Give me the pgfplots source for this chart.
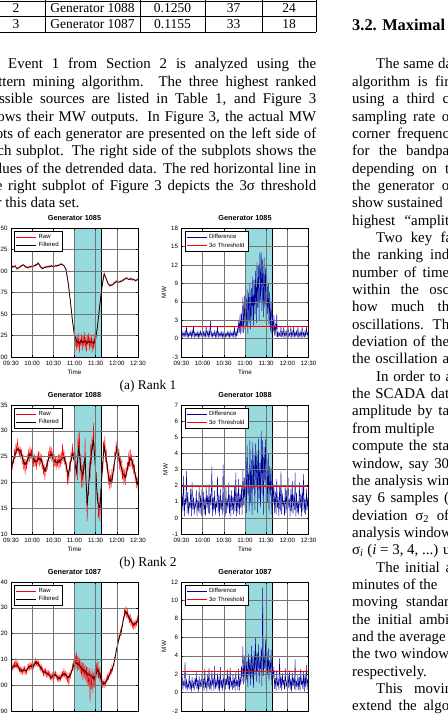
\documentclass[border=0pt]{standalone}
\usepackage{fontspec}
\setmainfont{Liberation Serif}
\newfontfamily\plotfont{Liberation Sans}
\usepackage{pgfplots}
\pgfplotsset{compat=1.18}
\definecolor{shade}{RGB}{150,218,222}
\definecolor{diffblue}{RGB}{0,0,150}
\newcommand\bodyfont{\fontsize{14.9}{17}\selectfont}
\newcommand\LJ[2]{\node[anchor=base west,inner sep=0pt,font=\bodyfont] at (-16,{645-17.35*#1}) {\makebox[332pt][s]{#2}};}
\newcommand\RJ[2]{\node[anchor=base west,inner sep=0pt,font=\bodyfont] at (352,{645-17.35*#1}) {\makebox[97pt][s]{#2}};}
\newcommand\RIJ[2]{\node[anchor=base west,inner sep=0pt,font=\bodyfont] at (376,{645-17.35*#1}) {\makebox[76pt][s]{#2}};}
\newcommand\RN[2]{\node[anchor=base west,inner sep=0pt,font=\bodyfont] at (352,{645-17.35*#1}) {#2};}
\pgfplotsset{
 gp/.style={
  scale only axis, width=127pt, height=129pt, anchor=south west,
  xmin=0, xmax=180, xtick={0,30,60,90,120,150,180},
  xticklabels={09:30,10:00,10:30,11:00,11:30,12:00,12:30},
  grid=major, major grid style={black!55, line width=0.35pt},
  axis line style={line width=0.6pt}, axis on top,
  tick align=inside, major tick length=1.8pt,
  every tick/.style={black, line width=0.4pt},
  ticklabel style={font=\plotfont\fontsize{6.2}{7}\selectfont},
  /pgf/number format/assume math mode=true,
  xticklabel style={yshift=-1pt},
  title style={font=\plotfont\bfseries\fontsize{7.3}{8}\selectfont, yshift=-2pt},
  xlabel={Time}, xlabel style={font=\plotfont\fontsize{6.3}{7}\selectfont, yshift=3pt},
  ylabel={MW}, ylabel style={font=\plotfont\fontsize{6.3}{7}\selectfont, yshift=-2pt},
  legend style={at={(0.025,0.975)}, anchor=north west, draw=black, line width=0.5pt, fill=white,
     font=\plotfont\fontsize{6}{7}\selectfont, inner xsep=1.5pt, inner ysep=1pt, row sep=-1.5pt},
  legend cell align=left,
  legend image code/.code={\draw[#1,line width=0.7pt] (0pt,0pt) -- (20pt,0pt);},
 },
 rawp/.style={red, line width=0.4pt},
 filtp/.style={black, line width=0.7pt},
 diffp/.style={diffblue, line width=0.4pt},
 thrp/.style={red, line width=0.8pt},
 shadep/.style={fill=shade, draw=black, line width=0.5pt, forget plot},
}
\begin{document}
\begin{tikzpicture}[x=1pt,y=1pt]
\begin{scope}
\clip (0,0) rectangle (447,714);
% ---------- table fragment ----------
\draw[line width=0.6pt] (-10,713) -- (316,713) (-10,697.5) -- (316,697.5) (-10,682) -- (316,682);
\foreach \xx in {45,140,205,262,316} {\draw[line width=0.6pt] (\xx,682) -- (\xx,720);}
\begin{scope}[every node/.style={anchor=base,inner sep=0pt,font=\fontsize{13.5}{16}\selectfont}]
\node at (16,701) {2}; \node at (92.5,701) {Generator 1088}; \node at (172.5,701) {0.1250}; \node at (233.5,701) {37}; \node at (289,701) {24};
\node at (16,685.5) {3}; \node at (92.5,685.5) {Generator 1087}; \node at (172.5,685.5) {0.1155}; \node at (233.5,685.5) {33}; \node at (289,685.5) {18};
\end{scope}
% ---------- left column text ----------
\node[anchor=base west,inner sep=0pt,font=\bodyfont] at (8,645) {\makebox[308pt][s]{Event 1 from Section 2 is analyzed using the}};
\LJ{1}{pattern mining algorithm. The three highest ranked}
\LJ{2}{possible sources are listed in Table 1, and Figure 3}
\LJ{3}{shows their MW outputs. In Figure 3, the actual MW}
\LJ{4}{plots of each generator are presented on the left side of}
\LJ{5}{each subplot. The right side of the subplots shows the}
\LJ{6}{values of the detrended data. The red horizontal line in}
\LJ{7}{the right subplot of Figure 3 depicts the 3σ threshold}
\node[anchor=base west,inner sep=0pt,font=\bodyfont] at (-16,{645-17.35*8}) {for this data set.};
% ---------- right column text ----------
\node[anchor=base west,inner sep=0pt,font=\fontsize{16.4}{19}\selectfont\bfseries] at (352,683) {3.2. Maximal};
\RIJ{0}{The same da}
\RJ{1}{algorithm is fir}
\RJ{2}{using a third c}
\RJ{3}{sampling rate o}
\RJ{4}{corner frequenc}
\RJ{5}{for the bandpa}
\RJ{6}{depending on t}
\RJ{7}{the generator o}
\RN{8}{show sustained}
\RJ{9}{highest “amplit}
\RIJ{10}{Two key fa}
\RJ{11}{the ranking ind}
\RJ{12}{number of time}
\RJ{13}{within the osc}
\RJ{14}{how much th}
\RJ{15}{oscillations. Th}
\RJ{16}{deviation of the}
\RJ{17}{the oscillation a}
\RIJ{18}{In order to a}
\RJ{19}{the SCADA dat}
\RJ{20}{amplitude by ta}
\RN{21}{from multiple}
\RJ{22}{compute the sta}
\RJ{23}{window, say 30}
\RJ{24}{the analysis win}
\RJ{25}{say 6 samples (}
\RJ{26}{deviation σ\textsubscript{2} of}
\RN{27}{analysis window}
\RN{28}{σ\textsubscript{\textit{i}} (\textit{i} = 3, 4, ...) u}
\RIJ{29}{The initial a}
\RN{30}{minutes of the}
\RJ{31}{moving standar}
\RJ{32}{the initial ambi}
\RN{33}{and the average}
\RJ{34}{the two window}
\RN{35}{respectively.}
\RIJ{36}{This movin}
\RJ{37}{extend the algo}
% ---------- captions ----------
\node[anchor=base,inner sep=0pt,font=\fontsize{13.4}{15}\selectfont] at (148,324) {(a) Rank 1};
\node[anchor=base,inner sep=0pt,font=\fontsize{13.4}{15}\selectfont] at (148,147) {(b) Rank 2};
% ================= Rank 1 =================
\begin{axis}[gp, at={(11pt,357pt)}, ymin=200, ymax=350, ytick={200,225,250,275,300,325,350}, title={Generator 1085}]
\addplot[shadep] coordinates {(90,200) (90,350) (128,350) (128,200) (90,200)};
\addplot[rawp] table[x expr=\coordindex, y index=0, header=false, row sep=\\] {
305\\303\\306\\304\\306\\305\\307\\305\\302\\303\\
302\\305\\304\\306\\305\\307\\306\\308\\307\\306\\
304\\305\\304\\303\\305\\304\\306\\305\\304\\306\\
305\\306\\305\\307\\306\\308\\307\\309\\310\\308\\
306\\305\\304\\303\\302\\304\\303\\305\\304\\305\\
306\\304\\305\\306\\304\\306\\305\\307\\305\\306\\
304\\306\\305\\307\\306\\305\\307\\306\\308\\307\\
308\\309\\307\\308\\306\\307\\304\\303\\300\\296\\
291\\285\\280\\272\\266\\258\\250\\242\\236\\229\\
222\\212\\226\\208\\224\\210\\228\\205\\222\\213\\
227\\207\\225\\212\\229\\209\\223\\206\\226\\214\\
228\\208\\224\\211\\226\\205\\222\\209\\227\\212\\
224\\226\\232\\238\\246\\254\\261\\268\\275\\281\\
288\\294\\298\\296\\293\\291\\288\\286\\284\\283\\
282\\284\\283\\285\\284\\286\\287\\286\\288\\289\\
287\\288\\286\\287\\288\\289\\287\\288\\290\\289\\
291\\290\\292\\291\\293\\292\\290\\291\\290\\292\\
291\\290\\289\\291\\290\\289\\288\\290\\289\\291\\
290\\};
\addplot[filtp] table[x expr=\coordindex*3, y index=0, header=false, row sep=\\] {
304\\305\\305\\303\\304\\306\\307\\305\\304\\305\\
305\\306\\307\\309\\305\\303\\304\\305\\305\\306\\
305\\306\\306\\307\\308\\306\\302\\287\\266\\243\\
226\\218\\216\\219\\217\\219\\216\\218\\217\\216\\
220\\239\\261\\282\\296\\291\\285\\283\\284\\286\\
288\\287\\288\\289\\291\\291\\290\\291\\290\\289\\
290\\};
\legend{Raw,Filtered}
\end{axis}
\begin{axis}[gp, at={(181.5pt,357pt)}, ymin=-3, ymax=18, ytick={-3,0,3,6,9,12,15,18}, title={Generator 1085}]
\addplot[shadep] coordinates {(90,-3) (90,18) (128,18) (128,-3) (90,-3)};
\addplot[diffp] table[x expr=\coordindex, y index=0, header=false, row sep=\\] {
0.3\\1.1\\0.2\\0.9\\0.4\\1.2\\0.3\\2.0\\0.2\\1.0\\
0.3\\0.9\\0.4\\1.1\\0.2\\1.3\\0.3\\2.1\\0.2\\1.0\\
0.4\\0.9\\0.3\\1.1\\0.2\\1.0\\0.3\\1.2\\0.4\\0.9\\
0.3\\1.1\\0.2\\1.0\\0.3\\2.0\\0.4\\1.1\\0.2\\1.3\\
0.3\\3.0\\0.2\\1.0\\0.3\\0.9\\0.4\\1.2\\0.2\\1.1\\
0.3\\2.0\\0.2\\1.0\\0.4\\0.9\\0.3\\1.1\\0.2\\1.0\\
0.3\\1.2\\0.2\\0.9\\0.4\\1.1\\0.3\\1.0\\0.2\\1.2\\
0.3\\0.9\\0.4\\1.1\\0.3\\2.0\\0.2\\1.0\\0.4\\1.8\\
0.5\\3.0\\1.0\\4.0\\0.6\\4.2\\1.0\\6.8\\0.9\\7.0\\
1.2\\7.2\\2.0\\8.0\\0.8\\7.5\\2.5\\9.0\\1.5\\8.2\\
3.0\\10.1\\2.0\\9.5\\4.0\\11.0\\2.5\\12.5\\5.0\\11.8\\
3.0\\14.0\\6.0\\14.1\\4.5\\12.8\\3.5\\13.2\\5.0\\11.5\\
2.8\\10.2\\4.0\\9.0\\2.0\\7.5\\1.2\\6.0\\0.8\\4.0\\
1.0\\3.8\\0.5\\2.5\\0.3\\4.0\\0.2\\1.0\\0.3\\0.9\\
0.4\\2.0\\0.2\\1.1\\0.3\\2.0\\0.4\\1.0\\0.2\\1.2\\
0.3\\2.1\\0.2\\0.9\\0.4\\2.0\\0.3\\1.1\\0.2\\2.0\\
0.3\\1.0\\0.4\\1.2\\0.2\\2.0\\0.3\\0.9\\0.2\\1.1\\
0.4\\2.0\\0.3\\1.0\\0.2\\1.2\\0.3\\2.0\\0.4\\1.0\\
0.3\\};
\addplot[thrp] coordinates {(0,2.05) (180,2.05)};
\legend{Difference,3σ Threshold}
\end{axis}
% ================= Rank 2 =================
\begin{axis}[gp, at={(11pt,180pt)}, ymin=710, ymax=735, ytick={710,715,720,725,730,735}, title={Generator 1088}]
\addplot[shadep] coordinates {(90,710) (90,735) (128,735) (128,710) (90,710)};
\addplot[rawp] table[x expr=\coordindex, y index=0, header=false, row sep=\\] {
722.0\\724.5\\722.5\\725.0\\723.5\\726.5\\724.5\\727.5\\725.5\\728.5\\
725.5\\727.0\\725.0\\727.0\\724.5\\726.5\\723.5\\725.5\\722.5\\724.5\\
721.5\\724.5\\722.5\\725.5\\723.5\\726.5\\724.0\\727.0\\724.5\\726.5\\
724.0\\726.0\\723.0\\725.5\\723.0\\725.0\\722.5\\725.5\\723.5\\726.0\\
723.0\\726.0\\723.5\\725.5\\722.5\\724.5\\721.5\\723.5\\720.5\\723.0\\
722.0\\724.5\\722.5\\726.0\\724.0\\727.0\\724.5\\727.0\\724.0\\726.0\\
723.0\\725.5\\723.0\\725.0\\722.5\\725.0\\723.0\\725.5\\722.5\\725.5\\
723.0\\726.0\\723.5\\727.5\\724.0\\726.5\\723.5\\725.0\\722.0\\724.0\\
719.5\\722.5\\720.0\\724.0\\722.0\\726.0\\724.0\\727.5\\724.5\\726.0\\
722.0\\726.0\\721.0\\724.0\\720.5\\729.5\\725.0\\730.0\\721.5\\725.5\\
719.0\\723.5\\719.0\\724.0\\722.5\\728.5\\720.0\\717.5\\712.5\\718.5\\
717.5\\724.0\\720.5\\727.5\\723.5\\729.0\\725.5\\731.5\\726.0\\725.0\\
719.5\\722.0\\716.5\\718.0\\713.0\\717.0\\712.5\\718.5\\719.0\\724.0\\
722.0\\728.0\\725.5\\729.0\\724.0\\726.5\\722.5\\724.0\\719.5\\722.5\\
718.5\\721.5\\719.0\\722.5\\720.0\\723.5\\722.0\\726.0\\724.5\\728.0\\
725.5\\728.5\\724.0\\726.5\\722.5\\725.0\\721.5\\724.5\\720.5\\723.0\\
719.5\\722.5\\719.5\\723.0\\721.0\\724.0\\722.5\\726.0\\723.0\\726.5\\
723.0\\725.5\\722.5\\724.5\\721.5\\723.5\\720.0\\722.0\\719.0\\721.0\\
718.5\\};
\addplot[filtp] table[x expr=\coordindex*3, y index=0, header=false, row sep=\\] {
723\\724\\725.5\\726.5\\726.3\\725.5\\724\\723.5\\724.5\\725.5\\
725\\724.2\\724\\724.6\\724.5\\723.5\\722.2\\723.5\\725\\725.5\\
724.5\\724\\723.8\\724.2\\724.5\\725\\723.5\\721.5\\723.5\\725.5\\
724\\722\\727\\722.5\\721.5\\725\\715.5\\721\\726\\728\\
722\\716\\715\\721.5\\727\\724.5\\721\\720\\721\\724\\
726.5\\725\\723\\721.5\\721\\722.5\\724.5\\724.5\\723\\721\\
719.5\\};
\legend{Raw,Filtered}
\end{axis}
\begin{axis}[gp, at={(181.5pt,180pt)}, ymin=-1, ymax=7, ytick={-1,0,1,2,3,4,5,6,7}, title={Generator 1088}]
\addplot[shadep] coordinates {(90,-1) (90,7) (128,7) (128,-1) (90,-1)};
\addplot[diffp] table[x expr=\coordindex, y index=0, header=false, row sep=\\] {
0.2\\1.5\\0.4\\2.6\\0.1\\1.2\\0.8\\2.9\\0.3\\1.6\\
0.2\\1.0\\0.6\\1.8\\0.1\\2.2\\0.5\\1.3\\0.2\\0.9\\
0.7\\1.7\\0.1\\1.1\\0.4\\2.0\\0.3\\1.4\\0.1\\1.8\\
0.5\\1.6\\0.2\\1.2\\0.1\\1.9\\0.6\\1.4\\0.3\\2.1\\
0.2\\1.5\\0.8\\3.2\\0.1\\1.3\\0.4\\1.7\\0.2\\1.0\\
0.6\\2.6\\0.3\\1.4\\0.1\\1.8\\0.5\\1.1\\0.2\\3.3\\
0.4\\1.5\\0.1\\1.9\\0.3\\1.2\\0.6\\2.2\\0.2\\1.4\\
0.1\\1.7\\0.5\\1.3\\0.2\\2.0\\0.4\\2.8\\0.1\\1.6\\
0.3\\2.4\\0.2\\1.5\\0.6\\1.9\\0.2\\3.0\\0.8\\2.5\\
0.6\\4.3\\0.3\\4.5\\1.5\\2.8\\0.4\\4.8\\1.0\\3.6\\
0.2\\4.7\\1.8\\3.9\\0.5\\4.6\\2.0\\4.2\\0.3\\4.9\\
1.2\\3.4\\0.6\\5.4\\1.5\\4.8\\0.2\\4.4\\2.2\\4.9\\
0.4\\3.7\\1.0\\4.0\\0.3\\3.2\\1.4\\3.1\\0.2\\2.6\\
0.9\\2.1\\0.3\\1.6\\0.2\\2.4\\0.6\\1.3\\0.1\\1.9\\
0.4\\2.9\\0.2\\1.5\\0.7\\1.1\\0.1\\2.0\\0.3\\1.7\\
0.2\\2.5\\0.6\\1.2\\0.1\\1.8\\0.4\\2.3\\0.2\\1.4\\
0.5\\2.8\\0.1\\1.6\\0.3\\1.0\\0.2\\2.2\\0.6\\1.5\\
0.1\\1.9\\0.4\\2.7\\0.3\\1.2\\0.2\\1.8\\0.5\\1.3\\
0.2\\};
\addplot[thrp] coordinates {(0,1.95) (180,1.95)};
\legend{Difference,3σ Threshold}
\end{axis}
% ================= Rank 3 =================
\begin{axis}[gp, at={(11pt,3pt)}, ymin=690, ymax=740, ytick={690,700,710,720,730,740}, title={Generator 1087}]
\addplot[shadep] coordinates {(90,690) (90,740) (128,740) (128,690) (90,690)};
\addplot[rawp] table[x expr=\coordindex, y index=0, header=false, row sep=\\] {
705.0\\708.0\\706.0\\708.5\\706.5\\709.0\\706.5\\710.5\\707.0\\709.0\\
706.0\\708.0\\705.0\\707.5\\704.5\\706.5\\704.0\\707.0\\705.0\\707.5\\
704.0\\706.5\\704.5\\707.5\\705.5\\708.0\\706.0\\709.0\\706.0\\708.5\\
705.5\\708.5\\706.5\\709.5\\707.0\\710.5\\707.5\\710.0\\707.0\\709.5\\
706.5\\708.5\\705.5\\708.0\\704.5\\707.0\\703.5\\706.5\\704.0\\706.5\\
703.0\\706.0\\703.5\\705.5\\702.5\\705.5\\702.0\\704.5\\701.5\\705.0\\
702.0\\705.0\\703.0\\705.5\\702.5\\704.5\\701.5\\704.0\\701.0\\704.0\\
701.5\\705.0\\702.5\\705.5\\703.0\\706.5\\703.0\\705.5\\702.0\\705.0\\
701.0\\704.5\\699.5\\705.0\\702.5\\706.0\\704.5\\708.0\\706.0\\710.0\\
707.0\\712.0\\706.5\\713.0\\705.5\\711.5\\706.0\\710.5\\704.5\\709.5\\
703.5\\709.0\\702.0\\708.5\\703.0\\708.0\\701.5\\707.5\\700.0\\707.0\\
699.5\\706.5\\693.5\\705.5\\698.5\\706.5\\697.0\\705.0\\699.0\\706.0\\
701.0\\708.5\\703.0\\709.5\\702.5\\707.0\\701.5\\705.0\\699.5\\702.5\\
699.0\\701.5\\699.0\\702.0\\700.0\\703.0\\701.0\\704.5\\702.0\\705.0\\
703.5\\706.5\\704.0\\707.5\\705.5\\708.0\\707.5\\711.0\\710.5\\714.0\\
713.5\\717.0\\716.0\\719.5\\718.0\\721.5\\719.5\\723.0\\722.5\\726.5\\
726.0\\730.0\\727.0\\730.5\\726.0\\729.5\\725.0\\728.0\\724.0\\727.5\\
723.0\\726.0\\722.0\\725.0\\721.5\\724.5\\722.5\\725.5\\723.0\\727.0\\
724.0\\};
\addplot[filtp] table[x expr=\coordindex*3, y index=0, header=false, row sep=\\] {
706.5\\707\\707.5\\707.5\\706.5\\705.5\\706\\705.5\\706.5\\707.5\\
707\\708\\709\\708\\707\\705.5\\705\\704.5\\704\\703\\
703.5\\704\\703\\702.5\\703.5\\704.5\\704\\703\\704\\706\\
709\\708.5\\708\\707\\706\\705.5\\704.5\\704\\703.5\\702.5\\
704\\706\\704\\701.5\\700.5\\701.5\\703\\705\\706.5\\710\\
714.5\\718\\720.5\\725\\728.5\\727.5\\726\\724.5\\723.5\\724\\
725\\};
\legend{Raw,Filtered}
\end{axis}
\begin{axis}[gp, at={(181.5pt,3pt)}, ymin=-2, ymax=12, ytick={-2,0,2,4,6,8,10,12}, title={Generator 1087}]
\addplot[shadep] coordinates {(90,-2) (90,12) (128,12) (128,-2) (90,-2)};
\addplot[diffp] table[x expr=\coordindex, y index=0, header=false, row sep=\\] {
0.5\\1.8\\0.3\\1.2\\0.8\\3.3\\0.4\\1.5\\0.2\\1.0\\
0.6\\1.9\\0.3\\1.3\\0.1\\1.7\\0.5\\1.1\\0.2\\1.6\\
0.7\\2.2\\0.3\\1.4\\0.1\\1.8\\0.4\\1.2\\0.6\\2.0\\
0.3\\1.5\\0.2\\2.6\\0.5\\1.3\\0.1\\1.9\\0.6\\2.7\\
0.3\\1.4\\0.2\\2.4\\0.8\\1.6\\0.2\\2.9\\0.4\\1.2\\
0.7\\2.1\\0.3\\1.7\\0.1\\2.8\\0.5\\1.4\\0.2\\1.9\\
0.6\\2.2\\0.3\\1.5\\0.8\\2.5\\0.4\\1.8\\0.2\\2.7\\
0.6\\1.3\\0.3\\2.0\\0.5\\1.6\\0.2\\2.3\\0.7\\1.4\\
0.3\\2.6\\0.2\\1.7\\0.8\\2.9\\1.2\\5.0\\0.9\\4.0\\
1.0\\5.1\\1.4\\3.4\\0.6\\4.2\\1.8\\3.6\\0.8\\5.1\\
1.5\\3.9\\0.5\\4.5\\2.0\\6.0\\1.2\\4.3\\2.3\\5.2\\
1.0\\3.8\\2.5\\4.9\\0.7\\11.4\\1.8\\4.0\\2.6\\5.8\\
0.9\\4.4\\2.0\\4.8\\1.3\\3.5\\2.2\\4.6\\0.8\\3.0\\
1.5\\2.8\\0.4\\1.6\\0.2\\2.5\\0.7\\1.3\\0.3\\3.7\\
0.5\\1.8\\0.2\\2.1\\0.8\\1.4\\0.3\\2.7\\0.6\\1.2\\
0.2\\1.9\\0.5\\2.4\\0.3\\1.5\\0.1\\2.2\\0.7\\1.6\\
0.4\\3.6\\0.2\\1.3\\0.6\\2.0\\0.3\\1.7\\0.2\\2.6\\
0.8\\1.4\\0.4\\2.3\\0.1\\1.9\\0.6\\3.0\\0.3\\1.5\\
0.8\\};
\addplot[thrp] coordinates {(0,2.35) (180,2.35)};
\legend{Difference,3σ Threshold}
\end{axis}
\end{scope}
\pgfresetboundingbox
\useasboundingbox (0,0) rectangle (447,714);
\end{tikzpicture}
\end{document}
